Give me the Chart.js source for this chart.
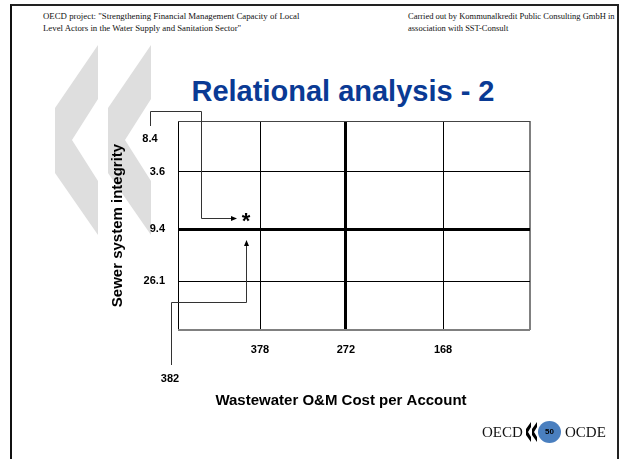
<!DOCTYPE html>
<html>
<head>
<meta charset="utf-8">
<script src="https://cdn.jsdelivr.net/npm/chart.js@4.4.1/dist/chart.umd.min.js"></script>
<style>
  html, body { margin: 0; padding: 0; background: #fff; }
  #slide { position: relative; width: 620px; height: 459px; overflow: hidden; background: #fff; }
  #frame { position: absolute; left: 10px; top: 4px; width: 609px; height: 470px; box-sizing: border-box;
           border-left: 2px solid #111; border-top: 2px solid #222; border-right: 2px solid #222; }
  #bg { position: absolute; left: 0; top: 0; }
  #chart { position: absolute; left: 0; top: 0; }
  .hdr { position: absolute; font-family: "Liberation Serif", "Times New Roman", serif; font-size: 8.5px;
         line-height: 12px; color: #111; white-space: nowrap; }
  #title { position: absolute; left: 0; width: 686px; top: 74px; text-align: center;
           font-family: "Liberation Sans", Arial, sans-serif; font-weight: bold; font-size: 29px;
           line-height: 34px; color: #0a3a94; white-space: nowrap; }
  .ft { position: absolute; top: 423px; font-family: "Liberation Serif", "Times New Roman", serif;
        font-size: 15px; line-height: 18px; color: #111; }
  #pg { position: absolute; left: 538px; top: 421px; width: 23px; height: 22px; border-radius: 50%;
        background: #4a7fbf; color: #000; font-family: "Liberation Sans", Arial, sans-serif;
        font-weight: bold; font-size: 8px; line-height: 22px; text-align: center; }
</style>
</head>
<body>
<div id="slide">
  <svg id="bg" width="620" height="459">
    <polygon points="98,45 98,99 72,140 98,181 98,235 55,173 55,108" fill="#dedede"/>
    <polygon points="151,45 151,99 125,140 151,181 151,235 108,173 108,108" fill="#dedede"/>
    <polygon points="531,422 531,427 528,432 531,437 531,442 526,435 526,429" fill="#000"/>
    <polygon points="537,422 537,427 534,432 537,437 537,442 532,435 532,429" fill="#000"/>
  </svg>
  <div id="frame"></div>
  <div class="hdr" style="left:43px; top:10px; font-size:8.8px;">OECD project: "Strengthening Financial Management Capacity of Local<br>Level Actors in the Water Supply and Sanitation Sector"</div>
  <div class="hdr" style="left:408px; top:10px;">Carried out by Kommunalkredit Public Consulting GmbH in<br>association with SST-Consult</div>
  <div id="title">Relational analysis - 2</div>
  <canvas id="chart" width="620" height="459"></canvas>
  <div class="ft" style="left:482px;">OECD</div>
  <div id="pg">50</div>
  <div class="ft" style="left:565px;">OCDE</div>
</div>
<script>
// ---- data ----
const costBreaks = [378, 272, 168];          // x-axis quartile break labels (cost per account)
const integrityBreaks = [3.6, 9.4, 26.1];    // y-axis quartile break labels (sewer integrity)
const costBounds = [400, 60];                // assumed outer ends of the cost axis
const integrityBounds = [0, 40];             // assumed outer ends of the integrity axis
const utilityCost = [382];                   // the utility's cost per account
const utilityIntegrity = [8.4];              // the utility's sewer integrity value
const xTitle = 'Wastewater O&M Cost per Account';
const yTitle = 'Sewer system integrity';

// ---- layout (relative band widths) ----
const colFrac = [0, 0.233, 0.477, 0.753, 1];
const rowFrac = [0, 0.244, 0.517, 0.766, 1];

const xEdges = [costBounds[0], ...costBreaks, costBounds[1]];
const yEdges = [integrityBounds[0], ...integrityBreaks, integrityBounds[1]];
const bandCfg = { x: { edges: xEdges, frac: colFrac }, y: { edges: yEdges, frac: rowFrac } };

class BandScale extends Chart.LinearScale {
  _frac(value) {
    const { edges, frac } = bandCfg[this.id];
    let i = 0;
    for (; i < edges.length - 2; i++) {
      if ((value - edges[i]) * (value - edges[i + 1]) <= 0) break;
    }
    const t = (value - edges[i]) / (edges[i + 1] - edges[i]);
    return frac[i] + t * (frac[i + 1] - frac[i]);
  }
  getPixelForValue(value) {
    const f = this._frac(value);
    return this.isHorizontal() ? this.left + f * this.width : this.top + f * this.height;
  }
  getValueForPixel(pixel) {
    const { edges, frac } = bandCfg[this.id];
    const f = this.isHorizontal() ? (pixel - this.left) / this.width : (pixel - this.top) / this.height;
    let i = 0;
    for (; i < frac.length - 2; i++) if (f <= frac[i + 1]) break;
    const t = (f - frac[i]) / (frac[i + 1] - frac[i]);
    return edges[i] + t * (edges[i + 1] - edges[i]);
  }
}
BandScale.id = 'band';
BandScale.defaults = Chart.LinearScale.defaults;
Chart.register(BandScale);

const FONT = '"Liberation Sans", Arial, sans-serif';

function gridColor(ctx) {
  const n = ctx.scale.ticks.length;
  if (ctx.index === n - 1) return '#808080';
  if (ctx.index === 0 && ctx.scale.axis === 'y') return '#444';
  return '#000';
}
function gridWidth(ctx) {
  const n = ctx.scale.ticks.length;
  if (ctx.index === 2) return 3;
  if (ctx.index === n - 1) return 2;
  return 1;
}

const annotate = {
  id: 'annotate',
  afterDraw(chart) {
    const ctx = chart.ctx;
    const ca = chart.chartArea;
    const pt = chart.getDatasetMeta(0).data[0];
    const px = Math.round(pt.x), py = Math.round(pt.y);
    ctx.save();
    // marker
    ctx.fillStyle = '#000';
    ctx.font = 'bold 22px ' + FONT;
    ctx.textAlign = 'center';
    ctx.textBaseline = 'middle';
    ctx.fillText('*', px + 1, py + 3);

    ctx.font = 'bold 11px ' + FONT;
    // y value label + leader
    const lx = ca.left - 28, ly = ca.top + 18;
    ctx.fillText(String(utilityIntegrity[0]), lx, ly);
    ctx.strokeStyle = '#333';
    ctx.lineWidth = 1;
    const vx = px - 44;
    ctx.beginPath();
    ctx.moveTo(lx + 0.5, ly - 13);
    ctx.lineTo(lx + 0.5, ca.top - 9.5);
    ctx.lineTo(vx + 0.5, ca.top - 9.5);
    ctx.lineTo(vx + 0.5, py - 0.5);
    ctx.lineTo(px - 13, py - 0.5);
    ctx.stroke();
    ctx.beginPath();
    ctx.moveTo(px - 8, py - 0.5);
    ctx.lineTo(px - 14, py - 3);
    ctx.lineTo(px - 14, py + 2);
    ctx.closePath();
    ctx.fill();

    // x value label + leader
    const bx = ca.left - 8, by = ca.bottom + 49;
    ctx.fillText(String(utilityCost[0]), bx, by);
    const hy = ca.bottom - 28;
    ctx.beginPath();
    ctx.moveTo(bx + 1.5, by - 14);
    ctx.lineTo(bx + 1.5, hy + 0.5);
    ctx.lineTo(px + 1.5, hy + 0.5);
    ctx.lineTo(px + 1.5, py + 27);
    ctx.stroke();
    ctx.beginPath();
    ctx.moveTo(px + 1.5, py + 21);
    ctx.lineTo(px - 1, py + 27);
    ctx.lineTo(px + 4, py + 27);
    ctx.closePath();
    ctx.fill();

    // x axis title
    ctx.font = 'bold 15px ' + FONT;
    ctx.fillText(xTitle, (ca.left + ca.right) / 2 - 13, ca.bottom + 71);
    ctx.restore();
  }
};

new Chart(document.getElementById('chart'), {
  type: 'scatter',
  data: {
    datasets: [{
      data: utilityCost.map((c, i) => ({ x: c, y: utilityIntegrity[i] })),
      pointRadius: 0,
      pointHoverRadius: 0
    }]
  },
  options: {
    responsive: false,
    animation: false,
    devicePixelRatio: 1,
    events: [],
    layout: { padding: { left: 0, top: 121, right: 90, bottom: 0 } },
    plugins: { legend: { display: false }, tooltip: { enabled: false } },
    scales: {
      x: {
        type: 'band',
        position: 'bottom',
        min: costBounds[1], max: costBounds[0],
        afterBuildTicks: (s) => { s.ticks = xEdges.map(v => ({ value: v })); },
        afterFit: (s) => { s.height = 129; },
        border: { display: false },
        grid: { color: gridColor, lineWidth: gridWidth, drawTicks: false },
        ticks: {
          autoSkip: false, maxRotation: 0, padding: 13, color: '#000',
          font: { family: FONT, size: 11, weight: 'bold' },
          callback: (v, i) => (i > 0 && i <= costBreaks.length) ? String(costBreaks[i - 1]) : ''
        }
      },
      y: {
        type: 'band',
        position: 'left',
        min: integrityBounds[0], max: integrityBounds[1],
        afterBuildTicks: (s) => { s.ticks = yEdges.map(v => ({ value: v })); },
        afterFit: (s) => { s.width = 178; },
        border: { display: false },
        grid: { color: gridColor, lineWidth: gridWidth, drawTicks: false },
        ticks: {
          autoSkip: false, padding: 13, color: '#000',
          font: { family: FONT, size: 11, weight: 'bold' },
          callback: (v, i) => (i > 0 && i <= integrityBreaks.length) ? String(integrityBreaks[i - 1]) : ''
        },
        title: {
          display: true, text: yTitle, color: '#000',
          font: { family: FONT, size: 15, weight: 'bold' },
          padding: { top: 109, bottom: 0 }
        }
      }
    }
  },
  plugins: [annotate]
});
</script>
</body>
</html>
